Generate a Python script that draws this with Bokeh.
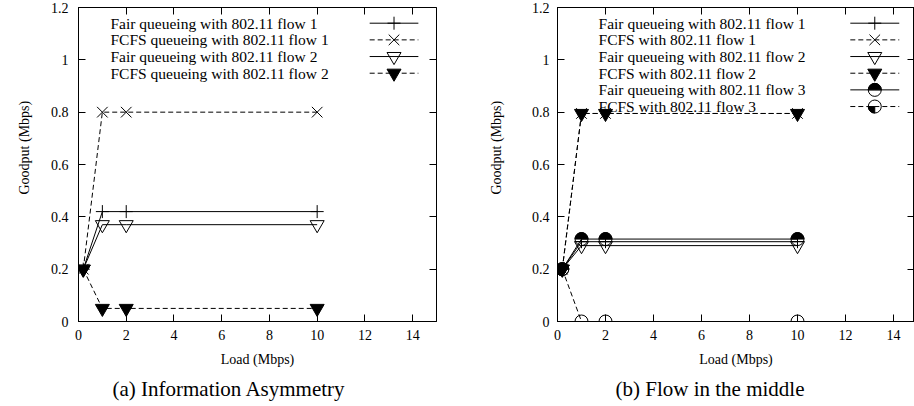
import math
from bokeh.plotting import figure
from bokeh.layouts import row
from bokeh.models import LinearAxis, FixedTicker, Range1d, Title, CustomJSTickFormatter
from bokeh.core.properties import value
from bokeh.embed import file_html
from bokeh.resources import INLINE

FONT = "Liberation Serif"

# ---------------- data ----------------
load = [0.2, 1, 2, 10]

a_fair_flow1 = [0.2, 0.42, 0.42, 0.42]
a_fcfs_flow1 = [0.2, 0.80, 0.80, 0.80]
a_fair_flow2 = [0.2, 0.37, 0.37, 0.37]
a_fcfs_flow2 = [0.2, 0.05, 0.05, 0.05]

b_fair_flow1 = [0.2, 0.305, 0.305, 0.305]
b_fcfs_flow1 = [0.2, 0.795, 0.795, 0.795]
b_fair_flow2 = [0.2, 0.29, 0.29, 0.29]
b_fcfs_flow2 = [0.2, 0.795, 0.795, 0.795]
b_fair_flow3 = [0.2, 0.315, 0.315, 0.315]
b_fcfs_flow3 = [0.2, 0.0, 0.0, 0.0]

a_labels = ["Fair queueing with 802.11  flow 1",
            "FCFS queueing with 802.11 flow 1",
            "Fair queueing with 802.11 flow 2",
            "FCFS queueing with 802.11 flow 2"]
b_labels = ["Fair queueing with 802.11 flow 1",
            "FCFS with 802.11  flow 1",
            "Fair queueing with 802.11 flow 2",
            "FCFS with 802.11 flow 2",
            "Fair queueing with 802.11 flow 3",
            "FCFS with 802.11 flow 3"]

x_ticks = [0, 2, 4, 6, 8, 10, 12, 14]
x_tick_labels = ["0", "2", "4", "6", "8", "10", "12", "14"]
y_ticks = [0, 0.2, 0.4, 0.6, 0.8, 1.0, 1.2]
y_tick_labels = ["0", "0.2", "0.4", "0.6", "0.8", "1", "1.2"]

x_label = "Load (Mbps)"
y_label = "Goodput (Mbps)"
caption_a = "(a)  Information Asymmetry"
caption_b = "(b)  Flow in the middle"


def draw_marker(p, xs, ys, kind):
    if kind == "cross":
        p.scatter(xs, ys, marker="cross", size=13, line_color="black", line_width=1)
    elif kind == "x":
        p.scatter(xs, ys, marker="x", size=15, line_color="black", line_width=1)
    elif kind == "tri_open":
        p.scatter(xs, ys, marker="inverted_triangle", size=14, line_color="black",
                  fill_color=None, line_width=1)
    elif kind == "tri_fill":
        p.scatter(xs, ys, marker="inverted_triangle", size=14, line_color="black",
                  fill_color="black", line_width=1)
    elif kind == "circ_top":
        p.wedge(xs, ys, radius=6.5, radius_units="screen", start_angle=0,
                end_angle=math.pi, fill_color="black", line_color="black")
        p.scatter(xs, ys, marker="circle", size=13, line_color="black",
                  fill_color=None, line_width=1)
    elif kind == "circ_quarter":
        p.wedge(xs, ys, radius=6.5, radius_units="screen", start_angle=math.pi,
                end_angle=1.5 * math.pi, fill_color="black", line_color="black")
        p.scatter(xs, ys, marker="circle", size=13, line_color="black",
                  fill_color=None, line_width=1)


def make_fig(width, left, right, xmax, ytick_standoff, ylab_standoff,
             caption, cap_offset, series, labels, text_x):
    p = figure(width=width, height=406, x_range=Range1d(0, xmax), y_range=Range1d(0, 1.2),
               output_backend="svg", toolbar_location=None,
               min_border_left=left, min_border_right=right,
               min_border_top=7, min_border_bottom=85)
    p.title = None
    p.xgrid.visible = False
    p.ygrid.visible = False
    p.outline_line_color = "black"
    p.outline_line_width = 1
    p.background_fill_color = "white"
    p.border_fill_color = "white"

    for ax, ticks, labs in ((p.xaxis[0], x_ticks, x_tick_labels),
                            (p.yaxis[0], y_ticks, y_tick_labels)):
        ax.ticker = FixedTicker(ticks=ticks)
        ax.major_label_overrides = dict(zip(ticks, labs))
        ax.major_tick_in = 7
        ax.major_tick_out = 0
        ax.minor_tick_line_color = None
        ax.axis_line_color = "black"
        ax.major_tick_line_color = "black"
        ax.major_label_text_font = FONT
        ax.major_label_text_font_size = "14px"
        ax.major_label_text_color = "black"
        ax.axis_label_text_font = FONT
        ax.axis_label_text_font_size = "14px"
        ax.axis_label_text_font_style = "normal"
        ax.axis_label_text_color = "black"
    p.xaxis[0].axis_label = x_label
    p.xaxis[0].major_label_standoff = 8
    p.xaxis[0].axis_label_standoff = 9
    p.yaxis[0].major_label_standoff = ytick_standoff

    # y-axis title (gnuplot places it a little above the frame centre)
    yt = Title(text=y_label, align="left", offset=127, vertical_align="top",
               text_font=FONT, text_font_size="14px", text_font_style="normal",
               text_color="black", standoff=ylab_standoff)
    p.add_layout(yt, "left")

    for place, ticks in (("above", x_ticks), ("right", y_ticks)):
        ax = LinearAxis(ticker=FixedTicker(ticks=ticks),
                        formatter=CustomJSTickFormatter(code="return ''"),
                        major_label_standoff=0, major_tick_in=7, major_tick_out=0,
                        minor_tick_line_color=None, axis_line_color=None,
                        major_tick_line_color="black")
        p.add_layout(ax, place)

    t = Title(text=caption, align="left", offset=cap_offset, text_font=FONT,
              text_font_size="21px", text_font_style="normal", text_color="black",
              standoff=10)
    p.add_layout(t, "below")

    for ys, dash, kind in series:
        p.line(load, ys, line_color="black", line_width=1,
               line_dash="5 3" if dash else "solid")
        draw_marker(p, load, ys, kind)

    # key (text left, sample right), gnuplot-style
    n = len(labels)
    row_y = [1.14 - 0.0637 * i for i in range(n)]
    p.text(x=[text_x] * n, y=row_y, text=labels,
           text_font=value(FONT), text_font_size="15.5px", text_baseline="middle",
           text_align="left", text_color="black")
    for i, (ys, dash, kind) in enumerate(series):
        p.line([12.2, 14.24], [row_y[i], row_y[i]], line_color="black", line_width=1,
               line_dash="5 3" if dash else "solid")
        draw_marker(p, [13.22], [row_y[i]], kind)
    return p


series_a = [(a_fair_flow1, False, "cross"),
            (a_fcfs_flow1, True, "x"),
            (a_fair_flow2, False, "tri_open"),
            (a_fcfs_flow2, True, "tri_fill")]
series_b = [(b_fair_flow1, False, "cross"),
            (b_fcfs_flow1, True, "x"),
            (b_fair_flow2, False, "tri_open"),
            (b_fcfs_flow2, True, "tri_fill"),
            (b_fair_flow3, False, "circ_top"),
            (b_fcfs_flow3, True, "circ_quarter")]

p1 = make_fig(460, 78, 24, 15, 10, 27, caption_a, 34, series_a, a_labels, 1.34)
p2 = make_fig(454, 97, 0, 14.875, 8, 46, caption_b, 58, series_b, b_labels, 1.71)

layout = row(p1, p2)

open("out.html", "w").write(file_html(layout, INLINE))
